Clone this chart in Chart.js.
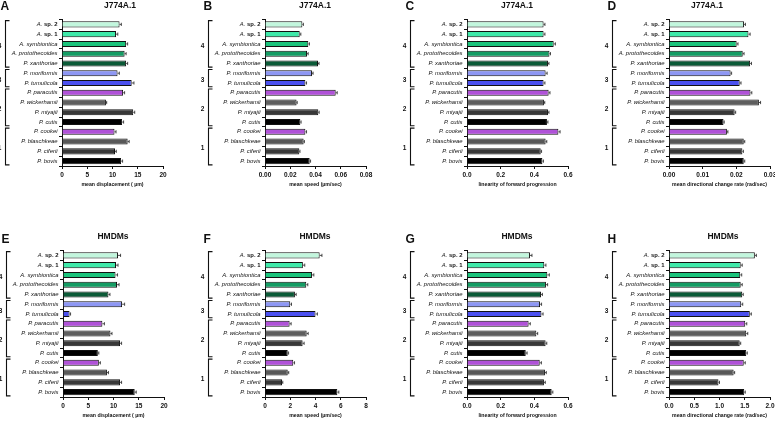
<!DOCTYPE html>
<html>
<head>
<meta charset="utf-8">
<script src="https://cdn.jsdelivr.net/npm/chart.js@4"></script>
<style>
    html, body { margin: 0; padding: 0; background: #fff; overflow: hidden; }
    #wrap { position: relative; width: 775px; height: 421px; overflow: hidden; background: #fff; }
    #wrap canvas { position: absolute; }
</style>
</head>
<body>
<div id="wrap"></div>
<script>
const strains = ['A. sp. 2', 'A. sp. 1', 'A. symbiontica', 'A. protothecoides', 'P. xanthoriae',
    'P. moriformis', 'P. tumulicola', 'P. paracutis', 'P. wickerhamii', 'P. miyajii', 'P. cutis',
    'P. cookei', 'P. blaschkeae', 'P. ciferii', 'P. bovis'];

// clade groups (first row index, last row index)
const groupNames = ['4', '3', '2', '1'];
const groupFrom = [0, 5, 7, 11];
const groupTo = [4, 6, 10, 14];

// J774A.1
const dispJ774 = [11.4, 10.7, 12.7, 12.4, 12.7, 11.0, 13.8, 12.1, 8.7, 14.1, 11.9, 10.4, 13.0, 10.5, 11.7];
const dispJ774Err = [0.35, 0.35, 0.3, 0.3, 0.3, 0.35, 0.45, 0.3, 0.15, 0.3, 0.3, 0.3, 0.3, 0.25, 0.3];
const speedJ774 = [0.0296, 0.0275, 0.0343, 0.0333, 0.0420, 0.0372, 0.0320, 0.0560, 0.0250, 0.0422, 0.0280, 0.0320, 0.0306, 0.0272, 0.0354];
const speedJ774Err = [0.0008, 0.0009, 0.0009, 0.0009, 0.0008, 0.0009, 0.0009, 0.0012, 0.0005, 0.0007, 0.0006, 0.0009, 0.0006, 0.0005, 0.0007];
const linJ774 = [0.455, 0.455, 0.515, 0.490, 0.481, 0.467, 0.455, 0.485, 0.457, 0.481, 0.475, 0.543, 0.467, 0.438, 0.448];
const linJ774Err = [0.008, 0.008, 0.010, 0.006, 0.006, 0.009, 0.008, 0.008, 0.005, 0.006, 0.006, 0.010, 0.007, 0.005, 0.006];
const dirJ774 = [0.0223, 0.0236, 0.0201, 0.0219, 0.0241, 0.0183, 0.0210, 0.0242, 0.0267, 0.0195, 0.0162, 0.0172, 0.0222, 0.0218, 0.0222];
const dirJ774Err = [0.0004, 0.0005, 0.0004, 0.0004, 0.0004, 0.0003, 0.0004, 0.0004, 0.0005, 0.0003, 0.0002, 0.0003, 0.0003, 0.0003, 0.0003];

// HMDMs
const dispHMDM = [10.9, 10.5, 10.4, 10.7, 9.0, 11.7, 1.3, 7.8, 9.4, 11.3, 6.9, 7.1, 8.7, 11.3, 14.2];
const dispHMDMErr = [0.5, 0.4, 0.4, 0.4, 0.3, 0.5, 0.2, 0.4, 0.3, 0.3, 0.2, 0.3, 0.3, 0.3, 0.3];
const speedHMDM = [4.33, 3.0, 3.72, 3.27, 2.37, 2.0, 4.0, 1.95, 3.3, 2.98, 1.8, 2.24, 1.8, 1.35, 5.73];
const speedHMDMErr = [0.18, 0.15, 0.15, 0.12, 0.1, 0.1, 0.15, 0.12, 0.12, 0.12, 0.07, 0.1, 0.08, 0.06, 0.12];
const linHMDM = [0.374, 0.459, 0.477, 0.469, 0.440, 0.434, 0.442, 0.366, 0.412, 0.467, 0.349, 0.432, 0.463, 0.457, 0.503];
const linHMDMErr = [0.012, 0.010, 0.012, 0.010, 0.008, 0.009, 0.010, 0.010, 0.008, 0.007, 0.008, 0.010, 0.008, 0.008, 0.007];
const dirHMDM = [1.70, 1.42, 1.41, 1.42, 1.45, 1.43, 1.60, 1.51, 1.53, 1.40, 1.53, 1.48, 1.28, 0.98, 1.49];
const dirHMDMErr = [0.03, 0.03, 0.03, 0.03, 0.02, 0.03, 0.03, 0.03, 0.03, 0.02, 0.02, 0.03, 0.02, 0.02, 0.02];

const barColors = ['#c2f6dd', '#3fe9a9', '#1bc37b', '#159c64', '#0b5a37', '#8e97f4', '#4b50ef',
    '#b052d8', '#5e5e5e', '#383838', '#000000', '#b052d8', '#585858', '#383838', '#000000'];

const FONT = "'Liberation Sans', Arial, Helvetica, sans-serif";
const INK = '#111';
const LABEL_SIZE = 5.9;
const Y_AXIS_W = 70;   // canvas x of the value axis line
const SHIFT = 8;       // canvas starts this far left of the panel slot

const panels = [
    { letter: 'A', title: 'J774A.1', values: dispJ774, errors: dispJ774Err, max: 20, step: 5, dec: 0, axis: 'mean displacement ( µm)', left: 0, top: 0, titleDx: 58 },
    { letter: 'B', title: 'J774A.1', values: speedJ774, errors: speedJ774Err, max: 0.08, step: 0.02, dec: 2, axis: 'mean speed (µm/sec)', left: 203, top: 0, titleDx: 50 },
    { letter: 'C', title: 'J774A.1', values: linJ774, errors: linJ774Err, max: 0.6, step: 0.2, dec: 1, axis: 'linearity of forward progression', left: 405, top: 0, titleDx: 50 },
    { letter: 'D', title: 'J774A.1', values: dirJ774, errors: dirJ774Err, max: 0.03, step: 0.01, dec: 2, axis: 'mean directional change rate (rad/sec)', left: 607, top: 0, titleDx: 38 },
    { letter: 'E', title: 'HMDMs', values: dispHMDM, errors: dispHMDMErr, max: 20, step: 5, dec: 0, axis: 'mean displacement ( µm)', left: 1, top: 231, titleDx: 50 },
    { letter: 'F', title: 'HMDMs', values: speedHMDM, errors: speedHMDMErr, max: 8, step: 2, dec: 0, axis: 'mean speed (µm/sec)', left: 203, top: 231, titleDx: 50 },
    { letter: 'G', title: 'HMDMs', values: linHMDM, errors: linHMDMErr, max: 0.6, step: 0.2, dec: 1, axis: 'linearity of forward progression', left: 405, top: 231, titleDx: 50 },
    { letter: 'H', title: 'HMDMs', values: dirHMDM, errors: dirHMDMErr, max: 2.0, step: 0.5, dec: 1, axis: 'mean directional change rate (rad/sec)', left: 607, top: 231, titleDx: 54 }
];

// labels like "A. sp. 2": genus italic, "sp. 2" upright bold
function isSpLabel(name) {
    return name.indexOf(' sp. ') > 0;
}

function makeDecor(p) {
    return {
        id: 'decor' + p.letter,
        afterDraw(chart) {
            const ctx = chart.ctx;
            const xs = chart.scales.x;
            const ys = chart.scales.y;
            const axisX = chart.chartArea.left;
            const band = ys.getPixelForValue(1) - ys.getPixelForValue(0);

            ctx.save();

            // error bars (positive side only, with cap)
            ctx.strokeStyle = '#222';
            ctx.lineWidth = 0.8;
            p.values.forEach(function (v, i) {
                const x0 = xs.getPixelForValue(v);
                const x1 = xs.getPixelForValue(v + p.errors[i]);
                const yc = ys.getPixelForValue(i);
                ctx.beginPath();
                ctx.moveTo(x0, yc);
                ctx.lineTo(x1, yc);
                ctx.moveTo(x1, yc - 1.6);
                ctx.lineTo(x1, yc + 1.6);
                ctx.stroke();
            });

            // mixed-style labels for the unnamed Auxenochlorella strains
            ctx.fillStyle = INK;
            ctx.textBaseline = 'middle';
            ctx.textAlign = 'left';
            strains.forEach(function (name, i) {
                if (!isSpLabel(name)) return;
                const cut = name.indexOf(' sp. ');
                const genus = name.slice(0, cut);
                const rest = name.slice(cut);
                const yc = ys.getPixelForValue(i);
                const italic = 'italic ' + LABEL_SIZE + 'px ' + FONT;
                const bold = 'bold ' + LABEL_SIZE + 'px ' + FONT;
                ctx.font = bold;
                const wRest = ctx.measureText(rest).width;
                ctx.font = italic;
                const wGenus = ctx.measureText(genus).width;
                const xEnd = axisX - 4.5;
                ctx.fillText(genus, xEnd - wRest - wGenus, yc);
                ctx.font = bold;
                ctx.fillText(rest, xEnd - wRest, yc);
            });

            // group brackets
            ctx.strokeStyle = INK;
            ctx.lineWidth = 1.1;
            ctx.font = 'bold 6.5px ' + FONT;
            ctx.textAlign = 'center';
            const bx = axisX - 56.5;
            groupNames.forEach(function (name, g) {
                const y0 = ys.getPixelForValue(groupFrom[g]) - band * 0.38;
                const y1 = ys.getPixelForValue(groupTo[g]) + band * 0.38;
                ctx.beginPath();
                ctx.moveTo(bx + 4, y0);
                ctx.lineTo(bx, y0);
                ctx.lineTo(bx, y1);
                ctx.lineTo(bx + 4, y1);
                ctx.stroke();
                ctx.fillText(name, axisX - 62.5, (y0 + y1) / 2 + 2);
            });

            // title and panel letter
            const top = chart.chartArea.top;
            ctx.font = 'bold 8.5px ' + FONT;
            ctx.fillText(p.title, axisX + p.titleDx, top - 14);
            ctx.font = 'bold 12px ' + FONT;
            ctx.textAlign = 'left';
            ctx.fillText(p.letter, axisX - 61.5, p.top ? top - 11 : top - 13);

            ctx.restore();
        }
    };
}

const wrap = document.getElementById('wrap');

panels.forEach(function (p) {
    const canvas = document.createElement('canvas');
    canvas.width = 202;
    canvas.height = 190;
    canvas.style.left = (p.left - SHIFT) + 'px';
    canvas.style.top = p.top + 'px';
    wrap.appendChild(canvas);

    new Chart(canvas.getContext('2d'), {
        type: 'bar',
        data: {
            labels: strains,
            datasets: [{
                data: p.values,
                backgroundColor: barColors,
                borderColor: INK,
                borderWidth: 1,
                barPercentage: 0.62,
                categoryPercentage: 1
            }]
        },
        options: {
            indexAxis: 'y',
            responsive: false,
            animation: false,
            layout: { padding: { top: 19.5, right: 202 - Y_AXIS_W - 101, left: 0, bottom: 0 } },
            plugins: {
                legend: { display: false },
                tooltip: { enabled: false }
            },
            scales: {
                x: {
                    min: 0,
                    max: p.max,
                    ticks: {
                        stepSize: p.step,
                        autoSkip: false,
                        maxRotation: 0,
                        padding: 2,
                        color: INK,
                        font: { family: FONT, size: 6.5, weight: 'bold' },
                        callback: function (v) { return Number(v).toFixed(p.dec); }
                    },
                    grid: { drawOnChartArea: false, tickLength: 3, color: INK },
                    border: { color: INK, width: 1 },
                    title: {
                        display: true,
                        text: p.axis,
                        color: INK,
                        font: { family: FONT, size: 5.2, weight: 'bold' },
                        padding: { top: 0, bottom: 2.5 }
                    },
                    afterFit: function (s) { s.height = 24; }
                },
                y: {
                    ticks: {
                        autoSkip: false,
                        padding: 1.5,
                        color: INK,
                        font: { family: FONT, size: LABEL_SIZE, style: 'italic' },
                        callback: function (v, i) {
                            return isSpLabel(strains[i]) ? '' : strains[i];
                        }
                    },
                    grid: { drawOnChartArea: false, tickLength: 3, color: INK },
                    border: { color: INK, width: 1 },
                    afterFit: function (s) { s.width = Y_AXIS_W; }
                }
            }
        },
        plugins: [makeDecor(p)]
    });
});
</script>
</body>
</html>
